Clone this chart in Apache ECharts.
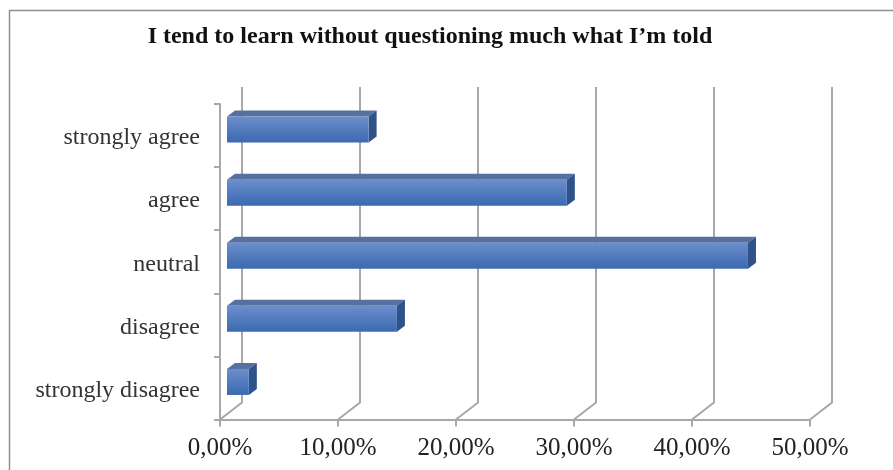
<!DOCTYPE html>
<html>
<head>
<meta charset="utf-8">
<style>
  html, body { margin: 0; padding: 0; background: #fff; }
  #mChart { width: 893px; height: 470px; }
</style>
<script src="https://cdn.jsdelivr.net/npm/echarts@6/dist/echarts.min.js"></script>
</head>
<body>
<div id="mChart"></div>
<script>
var titleText = "I tend to learn without questioning much what I\u2019m told";
// bottom to top, same order as the y axis
var categories = ["strongly disagree", "disagree", "neutral", "agree", "strongly agree"];
var shares = [1.85, 14.4, 44.15, 28.8, 12.0];
var xTicks = [0, 10, 20, 30, 40, 50];

var myChart = echarts.init(document.getElementById("mChart"));
var lineColor = "#a8a8a8";
var fontName = "Liberation Serif";

// depth of the fake 3d box
var wallX = 22, wallY = -17;
var barGapX = 7, barGapY = -6, barDepthX = 8, barDepthY = -6;
var barHeight = 26;

function renderWall(params, api) {
  var sys = params.coordSys;
  var x = api.coord([api.value(0), 0])[0];
  var bottom = sys.y + sys.height;
  return {
    type: "polyline",
    shape: { points: [[x, bottom], [x + wallX, bottom + wallY], [x + wallX, sys.y + wallY]] },
    style: { fill: null, stroke: lineColor, lineWidth: 2 },
    silent: true
  };
}

function renderBar(params, api) {
  var start = api.coord([0, api.value(1)]);
  var end = api.coord([api.value(0), api.value(1)]);
  var x0 = start[0] + barGapX;
  var x1 = end[0] + barGapX;
  var y0 = start[1] + barGapY - barHeight / 2;
  var y1 = y0 + barHeight;
  return {
    type: "group",
    children: [
      {
        type: "polygon",
        shape: { points: [[x0, y0], [x0 + barDepthX, y0 + barDepthY], [x1 + barDepthX, y0 + barDepthY], [x1, y0]] },
        style: { fill: "#56709f" }
      },
      {
        type: "polygon",
        shape: { points: [[x1, y0], [x1 + barDepthX, y0 + barDepthY], [x1 + barDepthX, y1 + barDepthY], [x1, y1]] },
        style: { fill: "#2f5389" }
      },
      {
        type: "rect",
        shape: { x: x0, y: y0, width: x1 - x0, height: barHeight },
        style: {
          fill: new echarts.graphic.LinearGradient(0, 0, 0, 1, [
            { offset: 0, color: "#6c8ecb" },
            { offset: 1, color: "#3b69b1" }
          ])
        }
      }
    ]
  };
}

myChart.setOption({
  animation: false,
  backgroundColor: "#fff",
  title: {
    text: titleText,
    left: 425,
    top: 20,
    textAlign: "center",
    textStyle: { fontFamily: fontName, fontSize: 24, fontWeight: "bold", color: "#111" }
  },
  grid: { left: 220, right: 83, top: 104, bottom: 50.5 },
  xAxis: {
    type: "value",
    min: 0,
    max: 50,
    interval: 10,
    splitLine: { show: false },
    axisLine: { show: true, lineStyle: { color: lineColor, width: 2 } },
    axisTick: { show: true, length: 7, lineStyle: { color: lineColor, width: 2 } },
    axisLabel: {
      margin: 16,
      fontFamily: fontName,
      fontSize: 25,
      color: "#222",
      formatter: function(val) {
        return val.toFixed(2).replace(".", ",") + "%";
      }
    }
  },
  yAxis: {
    type: "category",
    data: categories,
    axisLine: { show: true, lineStyle: { color: lineColor, width: 2 } },
    axisTick: { show: true, length: 6, lineStyle: { color: lineColor, width: 2 } },
    axisLabel: {
      margin: 20,
      formatter: function(val) {
        return "{c|" + val + "}";
      },
      rich: {
        // pushes the text a little below the band centre
        c: { padding: [5, 0, 0, 0], fontFamily: fontName, fontSize: 24, color: "#333" }
      }
    }
  },
  graphic: [
    {
      type: "polyline",
      shape: { points: [[9.5, 470], [9.5, 10.5], [893, 10.5]] },
      style: { fill: null, stroke: "#909090", lineWidth: 1.5 },
      silent: true
    }
  ],
  series: [
    {
      type: "custom",
      z: 1,
      renderItem: renderWall,
      data: xTicks.map(function(t) { return [t, 0]; }),
      clip: false,
      silent: true
    },
    {
      type: "custom",
      z: 3,
      renderItem: renderBar,
      data: shares.map(function(v, i) { return [v, i]; }),
      clip: false,
      silent: true
    }
  ]
});
</script>
</body>
</html>
